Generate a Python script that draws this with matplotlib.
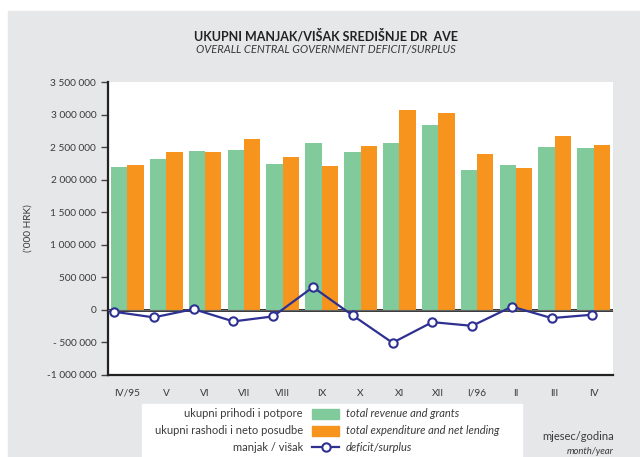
import numpy as np
import matplotlib
matplotlib.use("Agg")
import matplotlib.pyplot as plt
from matplotlib.patches import Rectangle
from matplotlib.lines import Line2D
from matplotlib.ticker import FuncFormatter

months = ["IV/95", "V", "VI", "VII", "VIII", "IX", "X", "XI", "XII",
          "I/96", "II", "III", "IV"]
revenue = [2190000, 2315000, 2440000, 2450000, 2240000, 2558000, 2420000,
           2558000, 2835000, 2143000, 2220000, 2500000, 2480000]
expenditure = [2220000, 2420000, 2420000, 2620000, 2343000, 2205000, 2510000,
               3066000, 3020000, 2390000, 2175000, 2670000, 2540000]
balance = [-28000, -115000, 12000, -177000, -100000, 350000, -85000,
           -505000, -188000, -245000, 50000, -126000, -75000]
yticks = [-1000000, -500000, 0, 500000, 1000000, 1500000, 2000000,
          2500000, 3000000, 3500000]

GREEN = "#80ca9c"
ORANGE = "#f7941d"
BLUE = "#2e3192"
GREY_BG = "#e6e7e8"
TXT = "#3a3a3a"

plt.rcParams["font.family"] = ["Lato", "DejaVu Sans"]

W, H = 640, 457
fig = plt.figure(figsize=(W / 100, H / 100), dpi=100, facecolor="white")
fig.patches.append(Rectangle((8 / W, 0), 1 - 8 / W, 1 - 11 / H,
                             transform=fig.transFigure, color=GREY_BG, zorder=-2))

ax = fig.add_axes([108 / W, 1 - 375 / H, (613 - 108) / W, (375 - 82) / H])
ax.set_facecolor("white")
x = np.arange(len(months))
bw = 0.42
ax.bar(x - bw / 2, revenue, bw, color=GREEN, zorder=2)
ax.bar(x + bw / 2, expenditure, bw, color=ORANGE, zorder=2)
ax.axhline(0, color="#222222", lw=2, zorder=1)
ax.axhline(0, color="#666666", lw=0.8, zorder=3)

ax.set_xlim(-0.5, len(months) - 0.5)
ax.set_ylim(-1000000, 3500000)
ax.set_yticks(yticks)
ax.yaxis.set_major_formatter(FuncFormatter(
    lambda v, p: ("- " if v < 0 and v > -1000000 else ("-" if v < 0 else ""))
    + f"{abs(int(v)):,}".replace(",", " ")))
ax.set_xticks(x)
ax.set_xticklabels(months)
ax.tick_params(axis="y", length=5, width=1, color="#444444", pad=3.5,
               labelsize=7.3, labelcolor=TXT)
ax.tick_params(axis="x", length=0, pad=10, labelsize=7.3, labelcolor=TXT)
for s in ["top", "right"]:
    ax.spines[s].set_visible(False)
for s in ["left", "bottom"]:
    ax.spines[s].set_linewidth(1.6)
    ax.spines[s].set_color("#222222")
ax.set_ylabel("('000 HRK)", fontsize=7.3, color=TXT, labelpad=8)
ax.yaxis.set_label_coords(-0.15, 0.5)

# line series sits on its own (secondary) category axis, as in the source
ax2 = ax.twiny()
ax2.set_xlim(-0.15, 12.54)
ax2.set_ylim(ax.get_ylim())
ax2.plot(x, balance, color=BLUE, lw=1.6, marker="o", ms=6,
         mfc="white", mec=BLUE, mew=1.5, zorder=4)
ax2.axis("off")

fig.text(326 / W, 1 - 36 / H, "UKUPNI MANJAK/VIŠAK SREDIŠNJE DR  AVE",
         ha="center", va="center", fontsize=9, fontweight="bold", color="#222222")
fig.text(326 / W, 1 - 50 / H, "OVERALL CENTRAL GOVERNMENT DEFICIT/SURPLUS",
         ha="center", va="center", fontsize=8, style="italic", color=TXT)

# legend panel
fig.patches.append(Rectangle((142 / W, 1 - 456 / H), (522 - 142) / W, (456 - 404) / H,
                             transform=fig.transFigure, color="white", zorder=-1))
rows = [("ukupni prihodi i potpore", "total revenue and grants", GREEN),
        ("ukupni rashodi i neto posudbe", "total expenditure and net lending", ORANGE),
        ("manjak / višak", "deficit/surplus", None)]
for i, (hr, en, col) in enumerate(rows):
    yc = 1 - (413.7 + i * 16.8) / H
    fig.text(303 / W, yc, hr, ha="right", va="center", fontsize=8, color=TXT)
    fig.text(346 / W, yc, en, ha="left", va="center", fontsize=8,
             style="italic", color=TXT)
    if col:
        fig.patches.append(Rectangle((312 / W, yc - 5 / H), 27 / W, 10 / H,
                                     transform=fig.transFigure, color=col, zorder=2))
    else:
        fig.lines.append(Line2D([312 / W, 339 / W], [yc, yc], transform=fig.transFigure,
                                color=BLUE, lw=1.6, zorder=2))
        fig.lines.append(Line2D([325.5 / W], [yc], transform=fig.transFigure,
                                marker="o", ms=6, mfc="white", mec=BLUE, mew=1.5,
                                zorder=3))

fig.text(614 / W, 1 - 436 / H, "mjesec/godina", ha="right", va="center",
         fontsize=8, color=TXT)
fig.text(614 / W, 1 - 451.5 / H, "month/year", ha="right", va="center",
         fontsize=6.8, style="italic", color=TXT)

fig.savefig("out.png", dpi=100, facecolor=fig.get_facecolor())
